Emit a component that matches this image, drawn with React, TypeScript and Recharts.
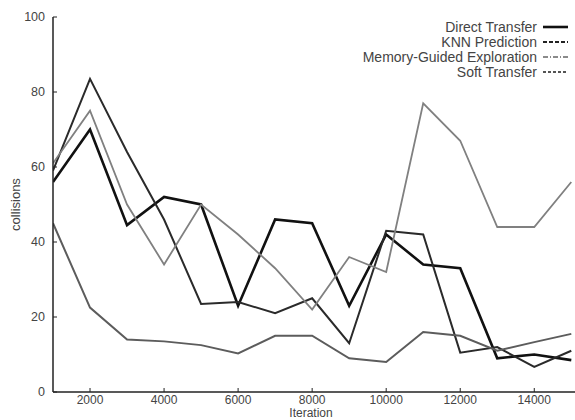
import React from 'react';
import { LineChart, Line, XAxis, YAxis, Legend } from 'recharts';

const iterations = [1000, 2000, 3000, 4000, 5000, 6000, 7000, 8000, 9000, 10000, 11000, 12000, 13000, 14000, 15000];
const directTransfer = [56, 70, 44.5, 52, 50, 23, 46, 45, 23, 42, 34, 33, 9, 10, 8.5];
const knnPrediction = [59, 83.5, 64, 46, 23.5, 24, 21, 25, 13, 43, 42, 10.5, 12, 6.7, 11];
const memoryGuided = [61, 75, 50, 34, 50, 42, 33, 22, 36, 32, 77, 67, 44, 44, 56];
const softTransfer = [45, 22.5, 14, 13.5, 12.5, 10.3, 15, 15, 9, 8, 16, 15, 11, 13.3, 15.5];
const xTicks = [2000, 4000, 6000, 8000, 10000, 12000, 14000];
const yTicks = [0, 20, 40, 60, 80, 100];

const data = iterations.map((it, i) => ({
  iteration: it,
  direct: directTransfer[i],
  knn: knnPrediction[i],
  memory: memoryGuided[i],
  soft: softTransfer[i],
}));

const series = [
  { key: 'direct', name: 'Direct Transfer', color: '#111', width: 2.6, legendDash: undefined as string | undefined, legendColor: '#111', legendWidth: 2.6 },
  { key: 'knn', name: 'KNN Prediction', color: '#2a2a2a', width: 2, legendDash: '4 2', legendColor: '#222', legendWidth: 2 },
  { key: 'memory', name: 'Memory-Guided Exploration', color: '#808080', width: 1.8, legendDash: '5 2 1 2', legendColor: '#666', legendWidth: 1.5 },
  { key: 'soft', name: 'Soft Transfer', color: '#5c5c5c', width: 2, legendDash: '3 2', legendColor: '#555', legendWidth: 1.8 },
];

const FONT = '"Liberation Sans", Arial, sans-serif';
const TEXT = '#444';

const renderLegend = () => (
  <div style={{ fontFamily: FONT, fontSize: 14, color: TEXT }}>
    {series.map((s) => (
      <div key={s.key} style={{ display: 'flex', alignItems: 'center', justifyContent: 'flex-end', height: 15, whiteSpace: 'nowrap' }}>
        <span>{s.name}</span>
        <svg width={30} height={8} style={{ marginLeft: 4 }}>
          <line x1={2} x2={27} y1={4} y2={4} stroke={s.legendColor} strokeWidth={s.legendWidth} strokeDasharray={s.legendDash} />
        </svg>
      </div>
    ))}
  </div>
);

const yLabel = (props: any) => {
  const vb = props.viewBox;
  const cy = vb.y + vb.height / 2;
  return (
    <text x={15} y={cy} transform={`rotate(-90 15 ${cy})`} textAnchor="middle" dominantBaseline="central" fontFamily={FONT} fontSize={13} fill={TEXT}>
      collisions
    </text>
  );
};

const xLabel = (props: any) => {
  const vb = props.viewBox;
  const cx = vb.x + vb.width / 2 - 3;
  return (
    <text x={cx} y={413} textAnchor="middle" dominantBaseline="central" fontFamily={FONT} fontSize={12} fill={TEXT}>
      Iteration
    </text>
  );
};

export default function App() {
  return (
    <div style={{ position: 'absolute', left: 0, top: 0, background: '#fff' }}>
      <LineChart width={575} height={420} data={data} margin={{ top: 17, right: 0, bottom: 0, left: 0 }}>
        <XAxis
          dataKey="iteration"
          type="number"
          domain={[1000, 15100]}
          allowDataOverflow
          ticks={xTicks}
          height={28}
          tickSize={-4}
          tickMargin={7}
          axisLine={{ stroke: '#222', strokeWidth: 1.5 }}
          tickLine={{ stroke: '#222' }}
          tick={{ fill: TEXT, fontSize: 12, fontFamily: FONT }}
          label={xLabel}
        />
        <XAxis
          xAxisId="top"
          orientation="top"
          dataKey="iteration"
          type="number"
          domain={[1000, 15100]}
          allowDataOverflow
          ticks={xTicks}
          height={0}
          tickSize={-4}
          tickFormatter={() => ''}
          axisLine={{ stroke: '#222', strokeWidth: 1.5 }}
          tickLine={{ stroke: '#222' }}
        />
        <YAxis
          type="number"
          domain={[0, 100]}
          ticks={yTicks}
          width={53}
          tickSize={-4}
          tickMargin={12}
          axisLine={{ stroke: '#222', strokeWidth: 1.5 }}
          tickLine={{ stroke: '#222' }}
          tick={{ fill: TEXT, fontSize: 12.5, fontFamily: FONT }}
          label={yLabel}
        />
        <Legend
          layout="vertical"
          align="center"
          verticalAlign="middle"
          content={renderLegend}
          wrapperStyle={{ position: 'absolute', top: 19, right: 4, left: 'auto', bottom: 'auto', width: 'auto' }}
        />
        {series.map((s) => (
          <Line
            key={s.key}
            type="linear"
            dataKey={s.key}
            name={s.name}
            stroke={s.color}
            strokeWidth={s.width}
            dot={false}
            activeDot={false}
            isAnimationActive={false}
          />
        ))}
      </LineChart>
    </div>
  );
}
